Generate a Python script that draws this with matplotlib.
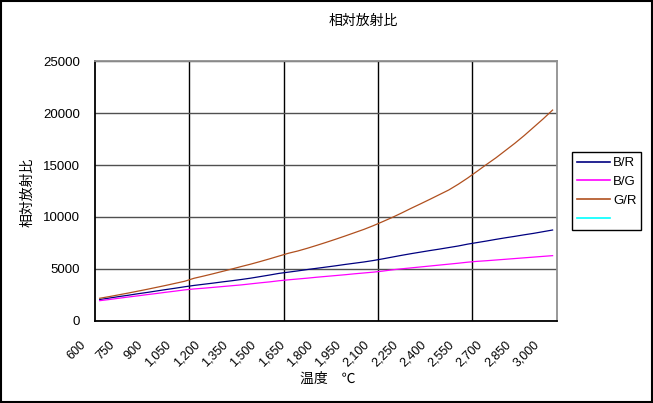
import numpy as np
import matplotlib
matplotlib.use("Agg")
import matplotlib.pyplot as plt
import matplotlib.transforms as mtransforms
from matplotlib.lines import Line2D
from matplotlib.patches import Rectangle

plt.rcParams['font.family'] = ['Liberation Sans', 'Noto Sans CJK JP']

# temperature categories (°C), 600..3000 step 50
temps = list(range(600, 3001, 50))

b_r = [2040, 2180, 2320, 2450, 2590, 2720, 2860, 3000, 3130, 3270,
       3400, 3510, 3620, 3740, 3850, 3970, 4100, 4250, 4400, 4560,
       4680, 4800, 4930, 5050, 5170, 5290, 5420, 5540, 5660, 5800,
       5960, 6130, 6300, 6460, 6610, 6760, 6900, 7050, 7200, 7380,
       7530, 7680, 7840, 7990, 8130, 8280, 8420, 8580, 8740]

b_g = [1930, 2040, 2160, 2280, 2390, 2510, 2620, 2740, 2850, 2970,
       3060, 3130, 3210, 3290, 3370, 3450, 3550, 3650, 3740, 3850,
       3940, 4020, 4100, 4190, 4270, 4350, 4430, 4520, 4600, 4680,
       4780, 4900, 5000, 5090, 5180, 5270, 5360, 5450, 5540, 5640,
       5720, 5780, 5850, 5920, 5990, 6060, 6130, 6200, 6270]

g_r = [2160, 2320, 2490, 2660, 2840, 3020, 3210, 3400, 3600, 3800,
       4090, 4300, 4520, 4750, 4980, 5220, 5450, 5700, 5960, 6230,
       6500, 6720, 6980, 7260, 7550, 7850, 8160, 8480, 8800, 9160,
       9550, 9950, 10380, 10830, 11260, 11700, 12150, 12600, 13150, 13750,
       14400, 15060, 15700, 16400, 17100, 17850, 18650, 19450, 20300]

series_names = ['B/R', 'B/G', 'G/R', '']
series_colors = ['#000080', '#FF00FF', '#B0501F', '#00FFFF']

fig = plt.figure(figsize=(6.53, 4.03), dpi=100)
ax = fig.add_axes([95 / 653, 1 - 320.7 / 403, 462.3 / 653, 259.4 / 403])

x = np.arange(len(temps))
ax.plot(x, b_r, color=series_colors[0], lw=0.9)
ax.plot(x, b_g, color=series_colors[1], lw=0.9)
ax.plot(x, g_r, color=series_colors[2], lw=0.9)

ax.set_xlim(-0.5, len(temps) - 0.5)
ax.set_ylim(0, 25000)
ax.set_yticks(range(0, 25001, 5000))

# category labels every 3rd category, gridlines every 10 categories
lab_idx = list(range(0, len(temps), 3))
ax.set_xticks(lab_idx)
ax.set_xticklabels([f"{temps[i]:,}" for i in lab_idx], rotation=45,
                   ha='right', va='top', fontsize=9)
ax.set_xticks([9.5, 19.5, 29.5, 39.5], minor=True)
ax.tick_params(axis='x', which='both', length=0, pad=13)
ax.tick_params(axis='y', length=0, pad=11, labelsize=9.5)
ax.grid(True, axis='x', which='minor', color='black', lw=1)
ax.grid(True, axis='y', which='major', color='#505050', lw=1)
ax.set_axisbelow(True)

offset = mtransforms.ScaledTranslation(-11 / 100, 0, fig.dpi_scale_trans)
for lab in ax.get_xticklabels():
    lab.set_transform(lab.get_transform() + offset)

for side in ['left', 'bottom']:
    ax.spines[side].set_color('black')
    ax.spines[side].set_linewidth(1.3)
for side in ['top', 'right']:
    ax.spines[side].set_color('#909090')
    ax.spines[side].set_linewidth(1.3)

fig.text(363.6 / 653, 1 - 21 / 403, '相対放射比', ha='center', va='center',
         fontsize=10, family=['Noto Sans CJK JP'])
fig.text(27 / 653, 1 - 192 / 403, '相対放射比', ha='center', va='center',
         rotation=90, fontsize=10, family=['Noto Sans CJK JP'])
fig.text(328 / 653, 1 - 379 / 403, '温度　℃', ha='center', va='center',
         fontsize=10, family=['Noto Sans CJK JP'])

handles = [Line2D([], [], color=c, lw=1.2) for c in series_colors]
leg = fig.legend(handles, series_names, loc='upper left',
                 bbox_to_anchor=(572.3 / 653, 1 - 152.3 / 403),
                 bbox_transform=fig.transFigure, borderaxespad=0,
                 fontsize=9.5, handlelength=2.5, handletextpad=0.25,
                 labelspacing=0.5, borderpad=0.35, fancybox=False,
                 framealpha=1, edgecolor='black')
leg.get_frame().set_linewidth(1)

fig.patches.append(Rectangle((0.001, 0.002), 0.997, 0.996, transform=fig.transFigure,
                             fill=False, edgecolor='black', lw=1.5))

fig.savefig('out.png', dpi=100)
